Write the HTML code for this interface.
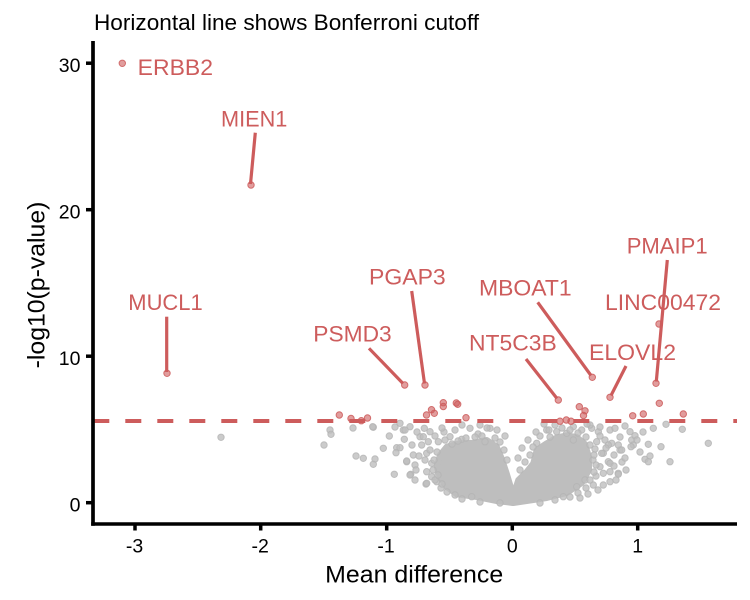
<!DOCTYPE html>
<html>
<head>
<meta charset="utf-8">
<style>
html,body{margin:0;padding:0;background:#fff;}
svg{display:block;}
text{font-family:"Liberation Sans",Arial,sans-serif;}
.g{fill:#BEBEBE;fill-opacity:.8;stroke:#B4B4B4;stroke-opacity:.8;stroke-width:1;}
.r{fill:#CD5C5C;fill-opacity:.6;stroke:#CD5C5C;stroke-opacity:.85;stroke-width:1;}
.lab{fill:#CD5C5C;font-size:22.5px;}
.seg{stroke:#CD5C5C;stroke-width:3.2;}
.tk{font-size:19.5px;fill:#000;}
.cl{fill:#BEBEBE;stroke:#BEBEBE;stroke-width:6;stroke-linejoin:round;}
</style>
</head>
<body>
<svg width="750" height="600" viewBox="0 0 750 600" xmlns="http://www.w3.org/2000/svg">
<rect width="750" height="600" fill="#fff"/>

<path class="cl" d="M436.7,466.7 L440,455 L446.7,446.7 L460,443.3 L473.3,442.7 L486.7,440 L496.7,446.7 L501.7,458.3 L506.7,473.3 L511.7,490 L513,500 L512.7,503 L496.7,501 L476.7,497 L456.7,494.3 L446.7,487 L440,478 Z"/>
<path class="cl" d="M515,490 L518.3,480 L526.7,471.7 L533.3,463.3 L536.7,450 L546.7,443.3 L556.7,437.5 L566.7,435.5 L576.7,437 L585,444 L589,456.7 L589,470 L581.7,483 L566.7,493 L546.7,498 L526.7,501 L513.3,503 Z"/>

<g class="g">
<circle cx="221" cy="437.3" r="3.2"/><circle cx="324" cy="445" r="3.2"/><circle cx="330" cy="430" r="3.2"/>
<circle cx="331" cy="434.3" r="3.2"/><circle cx="356" cy="456" r="3.2"/><circle cx="363.3" cy="458.3" r="3.2"/>
<circle cx="373.3" cy="427.3" r="3.2"/><circle cx="375" cy="459" r="3.2"/><circle cx="373.3" cy="464.3" r="3.2"/>
<circle cx="383.3" cy="448.3" r="3.2"/><circle cx="389.3" cy="436" r="3.2"/><circle cx="394.3" cy="474.3" r="3.2"/>
<circle cx="396.7" cy="447.7" r="3.2"/><circle cx="400" cy="447.7" r="3.2"/><circle cx="396" cy="452.7" r="3.2"/>
<circle cx="400" cy="423.3" r="3.2"/><circle cx="403.3" cy="430" r="3.2"/><circle cx="410" cy="426.7" r="3.2"/>
<circle cx="404.3" cy="439.3" r="3.2"/><circle cx="413.3" cy="455" r="3.2"/><circle cx="406.7" cy="461.7" r="3.2"/>
<circle cx="415" cy="465" r="3.2"/><circle cx="410.7" cy="474.3" r="3.2"/><circle cx="415" cy="480" r="3.2"/>
<circle cx="426" cy="484" r="3.2"/><circle cx="424.3" cy="428.3" r="3.2"/><circle cx="430" cy="431.7" r="3.2"/>
<circle cx="420" cy="436.7" r="3.2"/><circle cx="428.3" cy="441.7" r="3.2"/><circle cx="421.7" cy="445" r="3.2"/>
<circle cx="426.7" cy="453.3" r="3.2"/><circle cx="425" cy="460" r="3.2"/><circle cx="431.7" cy="463.3" r="3.2"/>
<circle cx="426.7" cy="471.7" r="3.2"/><circle cx="431.7" cy="476.7" r="3.2"/><circle cx="436.7" cy="481.7" r="3.2"/>
<circle cx="405" cy="430" r="3.2"/><circle cx="406.7" cy="461" r="3.2"/><circle cx="410" cy="475" r="3.2"/>
<circle cx="423.3" cy="436.7" r="3.2"/><circle cx="430" cy="450" r="3.2"/><circle cx="426.7" cy="483.3" r="3.2"/>
<circle cx="435" cy="480" r="3.2"/><circle cx="438.3" cy="441.7" r="3.2"/><circle cx="450" cy="436.7" r="3.2"/>
<circle cx="461.7" cy="439.3" r="3.2"/><circle cx="470" cy="428.3" r="3.2"/><circle cx="485" cy="441.7" r="3.2"/>
<circle cx="490" cy="428.3" r="3.2"/><circle cx="455" cy="495" r="3.2"/><circle cx="471.7" cy="496.7" r="3.2"/>
<circle cx="444" cy="432" r="3.2"/><circle cx="478" cy="434" r="3.2"/><circle cx="372.7" cy="426.7" r="3.2"/>
<circle cx="353" cy="428" r="3.2"/><circle cx="395" cy="427" r="3.2"/><circle cx="480" cy="425" r="3.2"/>
<circle cx="487" cy="428" r="3.2"/><circle cx="441" cy="488" r="3.2"/>
<circle cx="445" cy="440" r="3.2"/><circle cx="452" cy="444" r="3.2"/><circle cx="458" cy="441" r="3.2"/>
<circle cx="466" cy="438" r="3.2"/><circle cx="475" cy="437" r="3.2"/><circle cx="482" cy="436" r="3.2"/>
<circle cx="495" cy="438" r="3.2"/><circle cx="500" cy="442" r="3.2"/><circle cx="504" cy="450" r="3.2"/>
<circle cx="507" cy="460" r="3.2"/><circle cx="437" cy="452" r="3.2"/><circle cx="434" cy="460" r="3.2"/>
<circle cx="433" cy="470" r="3.2"/><circle cx="438" cy="475" r="3.2"/><circle cx="442" cy="484" r="3.2"/>
<circle cx="447" cy="492" r="3.2"/><circle cx="462" cy="499" r="3.2"/><circle cx="480" cy="502" r="3.2"/>
<circle cx="500" cy="503" r="3.2"/><circle cx="416" cy="470" r="3.2"/><circle cx="419" cy="456" r="3.2"/>
<circle cx="412" cy="445" r="3.2"/><circle cx="417" cy="432" r="3.2"/><circle cx="435" cy="436" r="3.2"/>
<circle cx="442" cy="428" r="3.2"/><circle cx="455" cy="430" r="3.2"/><circle cx="462" cy="425" r="3.2"/>
<circle cx="497" cy="430" r="3.2"/><circle cx="505" cy="436" r="3.2"/>
<circle cx="536.7" cy="443.3" r="3.2"/><circle cx="546.7" cy="430" r="3.2"/><circle cx="556.7" cy="431.7" r="3.2"/>
<circle cx="566.7" cy="433.3" r="3.2"/><circle cx="573.3" cy="426.7" r="3.2"/><circle cx="581.7" cy="430" r="3.2"/>
<circle cx="591.7" cy="428.3" r="3.2"/><circle cx="598.3" cy="431.7" r="3.2"/><circle cx="605" cy="440" r="3.2"/>
<circle cx="611.7" cy="443.3" r="3.2"/><circle cx="620" cy="450" r="3.2"/><circle cx="603.3" cy="453.3" r="3.2"/>
<circle cx="608.3" cy="461.7" r="3.2"/><circle cx="600" cy="466.7" r="3.2"/><circle cx="603.3" cy="473.3" r="3.2"/>
<circle cx="618.3" cy="473.3" r="3.2"/><circle cx="610" cy="481.7" r="3.2"/><circle cx="593.3" cy="485" r="3.2"/>
<circle cx="585" cy="480" r="3.2"/><circle cx="576.7" cy="486.7" r="3.2"/><circle cx="563.3" cy="496.7" r="3.2"/>
<circle cx="630" cy="431.7" r="3.2"/><circle cx="631.7" cy="440" r="3.2"/><circle cx="633.3" cy="445" r="3.2"/>
<circle cx="596.7" cy="441.7" r="3.2"/><circle cx="573.3" cy="440" r="3.2"/><circle cx="653.3" cy="428.3" r="3.2"/>
<circle cx="666" cy="424.3" r="3.2"/><circle cx="682.3" cy="429.3" r="3.2"/><circle cx="648.3" cy="444.3" r="3.2"/>
<circle cx="661" cy="446.7" r="3.2"/><circle cx="645" cy="459.3" r="3.2"/><circle cx="650" cy="456" r="3.2"/>
<circle cx="648.3" cy="461.7" r="3.2"/><circle cx="670" cy="461.7" r="3.2"/><circle cx="708.3" cy="443.3" r="3.2"/>
<circle cx="635" cy="435.7" r="3.2"/><circle cx="631" cy="446.7" r="3.2"/><circle cx="618.3" cy="445" r="3.2"/>
<circle cx="621.7" cy="450" r="3.2"/><circle cx="610" cy="430" r="3.2"/><circle cx="615" cy="428.3" r="3.2"/>
<circle cx="618.3" cy="474.3" r="3.2"/><circle cx="603.3" cy="485" r="3.2"/><circle cx="608.3" cy="445" r="3.2"/>
<circle cx="601.7" cy="453.3" r="3.2"/><circle cx="610" cy="463.3" r="3.2"/><circle cx="610" cy="471.7" r="3.2"/>
<circle cx="555" cy="425" r="3.2"/><circle cx="562" cy="428" r="3.2"/><circle cx="590" cy="425" r="3.2"/>
<circle cx="600" cy="427" r="3.2"/><circle cx="587" cy="424" r="3.2"/><circle cx="540" cy="436" r="3.2"/>
<circle cx="595" cy="449" r="3.2"/><circle cx="593" cy="460" r="3.2"/><circle cx="596" cy="476" r="3.2"/>
<circle cx="520" cy="470" r="3.2"/><circle cx="525" cy="462" r="3.2"/><circle cx="530" cy="455" r="3.2"/>
<circle cx="533" cy="447" r="3.2"/><circle cx="550" cy="437" r="3.2"/><circle cx="570" cy="430" r="3.2"/>
<circle cx="578" cy="433" r="3.2"/><circle cx="586" cy="437" r="3.2"/><circle cx="590" cy="445" r="3.2"/>
<circle cx="594" cy="455" r="3.2"/><circle cx="596" cy="465" r="3.2"/><circle cx="594" cy="472" r="3.2"/>
<circle cx="590" cy="480" r="3.2"/><circle cx="586" cy="488" r="3.2"/><circle cx="578" cy="493" r="3.2"/>
<circle cx="570" cy="497" r="3.2"/><circle cx="555" cy="500" r="3.2"/><circle cx="540" cy="503" r="3.2"/>
<circle cx="600" cy="436" r="3.2"/><circle cx="606" cy="448" r="3.2"/><circle cx="614" cy="455" r="3.2"/>
<circle cx="614" cy="466" r="3.2"/><circle cx="622" cy="462" r="3.2"/><circle cx="626" cy="470" r="3.2"/>
<circle cx="616" cy="480" r="3.2"/><circle cx="598" cy="490" r="3.2"/><circle cx="588" cy="494" r="3.2"/>
<circle cx="580" cy="498" r="3.2"/><circle cx="625" cy="458" r="3.2"/><circle cx="640" cy="452" r="3.2"/>
<circle cx="637" cy="440" r="3.2"/><circle cx="643" cy="432" r="3.2"/><circle cx="625" cy="426" r="3.2"/>
<circle cx="620" cy="437" r="3.2"/><circle cx="544" cy="424" r="3.2"/><circle cx="549" cy="430" r="3.2"/>
<circle cx="536" cy="432" r="3.2"/><circle cx="528" cy="440" r="3.2"/><circle cx="522" cy="448" r="3.2"/>
<circle cx="518" cy="458" r="3.2"/>
</g>

<line x1="93.3" y1="421" x2="737" y2="421" stroke="#CD5C5C" stroke-width="4" stroke-dasharray="16 16"/>

<g class="r">
<circle cx="339.3" cy="415" r="3.2"/><circle cx="351" cy="418.5" r="3.2"/><circle cx="361.3" cy="420.7" r="3.2"/>
<circle cx="367.5" cy="418" r="3.2"/><circle cx="426.5" cy="415" r="3.2"/><circle cx="431.5" cy="409.7" r="3.2"/>
<circle cx="434.3" cy="413.3" r="3.2"/><circle cx="443.3" cy="402.7" r="3.2"/><circle cx="443.3" cy="406.5" r="3.2"/>
<circle cx="456.3" cy="403" r="3.2"/><circle cx="457.7" cy="404.3" r="3.2"/><circle cx="466" cy="417.7" r="3.2"/>
<circle cx="560" cy="421.2" r="3.2"/><circle cx="566.3" cy="420" r="3.2"/><circle cx="571" cy="421.2" r="3.2"/>
<circle cx="579.3" cy="406.7" r="3.2"/><circle cx="585" cy="410.8" r="3.2"/><circle cx="583.5" cy="415.5" r="3.2"/>
<circle cx="632.7" cy="415.8" r="3.2"/><circle cx="643.3" cy="414" r="3.2"/><circle cx="659.3" cy="403.3" r="3.2"/>
<circle cx="683.3" cy="414" r="3.2"/>
<circle cx="122.3" cy="63.3" r="3.2"/><circle cx="251" cy="185" r="3.2"/><circle cx="167" cy="373.3" r="3.2"/>
<circle cx="404.7" cy="385" r="3.2"/><circle cx="425" cy="385" r="3.2"/><circle cx="558.3" cy="400" r="3.2"/>
<circle cx="592.3" cy="377.3" r="3.2"/><circle cx="610" cy="397.3" r="3.2"/><circle cx="656" cy="383.3" r="3.2"/>
<circle cx="659" cy="324" r="3.2"/>
</g>

<g class="seg">
<line x1="255.3" y1="132.7" x2="250.5" y2="184"/>
<line x1="166.7" y1="316.7" x2="166.7" y2="372"/>
<line x1="369" y1="348.3" x2="403" y2="383.5"/>
<line x1="411.7" y1="291" x2="424.5" y2="383.5"/>
<line x1="526" y1="359" x2="557" y2="398.5"/>
<line x1="537.7" y1="302.3" x2="591" y2="375.5"/>
<line x1="626" y1="366" x2="611" y2="395.5"/>
<line x1="667.3" y1="260" x2="656.3" y2="381.5"/>
</g>

<g class="lab">
<text x="137.7" y="75" textLength="75.3" lengthAdjust="spacingAndGlyphs">ERBB2</text>
<text x="221" y="126.7" textLength="66.3" lengthAdjust="spacingAndGlyphs">MIEN1</text>
<text x="128.3" y="310" textLength="74.4" lengthAdjust="spacingAndGlyphs">MUCL1</text>
<text x="369" y="284.3" textLength="76.7" lengthAdjust="spacingAndGlyphs">PGAP3</text>
<text x="313.3" y="341.7" textLength="78.4" lengthAdjust="spacingAndGlyphs">PSMD3</text>
<text x="479" y="295.3" textLength="92.7" lengthAdjust="spacingAndGlyphs">MBOAT1</text>
<text x="469" y="350.7" textLength="87.7" lengthAdjust="spacingAndGlyphs">NT5C3B</text>
<text x="605" y="310" textLength="116" lengthAdjust="spacingAndGlyphs">LINC00472</text>
<text x="589" y="360" textLength="87" lengthAdjust="spacingAndGlyphs">ELOVL2</text>
<text x="626.7" y="253.3" textLength="81" lengthAdjust="spacingAndGlyphs">PMAIP1</text>
</g>

<line x1="93" y1="41" x2="93" y2="525.8" stroke="#000" stroke-width="3.7"/>
<line x1="91.2" y1="524" x2="737" y2="524" stroke="#000" stroke-width="3.5"/>
<g stroke="#000" stroke-width="3.5">
<line x1="86" y1="63.2" x2="93" y2="63.2"/>
<line x1="86" y1="209.7" x2="93" y2="209.7"/>
<line x1="86" y1="356.2" x2="93" y2="356.2"/>
<line x1="86" y1="502.7" x2="93" y2="502.7"/>
<line x1="135" y1="524" x2="135" y2="530.5"/>
<line x1="260.7" y1="524" x2="260.7" y2="530.5"/>
<line x1="386.7" y1="524" x2="386.7" y2="530.5"/>
<line x1="512.3" y1="524" x2="512.3" y2="530.5"/>
<line x1="637.7" y1="524" x2="637.7" y2="530.5"/>
</g>

<g class="tk" text-anchor="end">
<text x="80.5" y="72">30</text>
<text x="80.5" y="218.5">20</text>
<text x="80.5" y="365">10</text>
<text x="80.5" y="511.5">0</text>
</g>
<g class="tk" text-anchor="middle">
<text x="134.5" y="552.7">-3</text>
<text x="260.2" y="552.7">-2</text>
<text x="386" y="552.7">-1</text>
<text x="512.3" y="552.7">0</text>
<text x="637.7" y="552.7">1</text>
</g>

<text x="94" y="30" font-size="22.5" fill="#000" textLength="385" lengthAdjust="spacingAndGlyphs">Horizontal line shows Bonferroni cutoff</text>
<text x="414.2" y="582.3" font-size="24.5" fill="#000" text-anchor="middle" textLength="178" lengthAdjust="spacingAndGlyphs">Mean difference</text>
<text transform="translate(44.3,285) rotate(-90)" font-size="24.5" fill="#000" text-anchor="middle" textLength="166.7" lengthAdjust="spacingAndGlyphs">-log10(p-value)</text>
</svg>
</body>
</html>
